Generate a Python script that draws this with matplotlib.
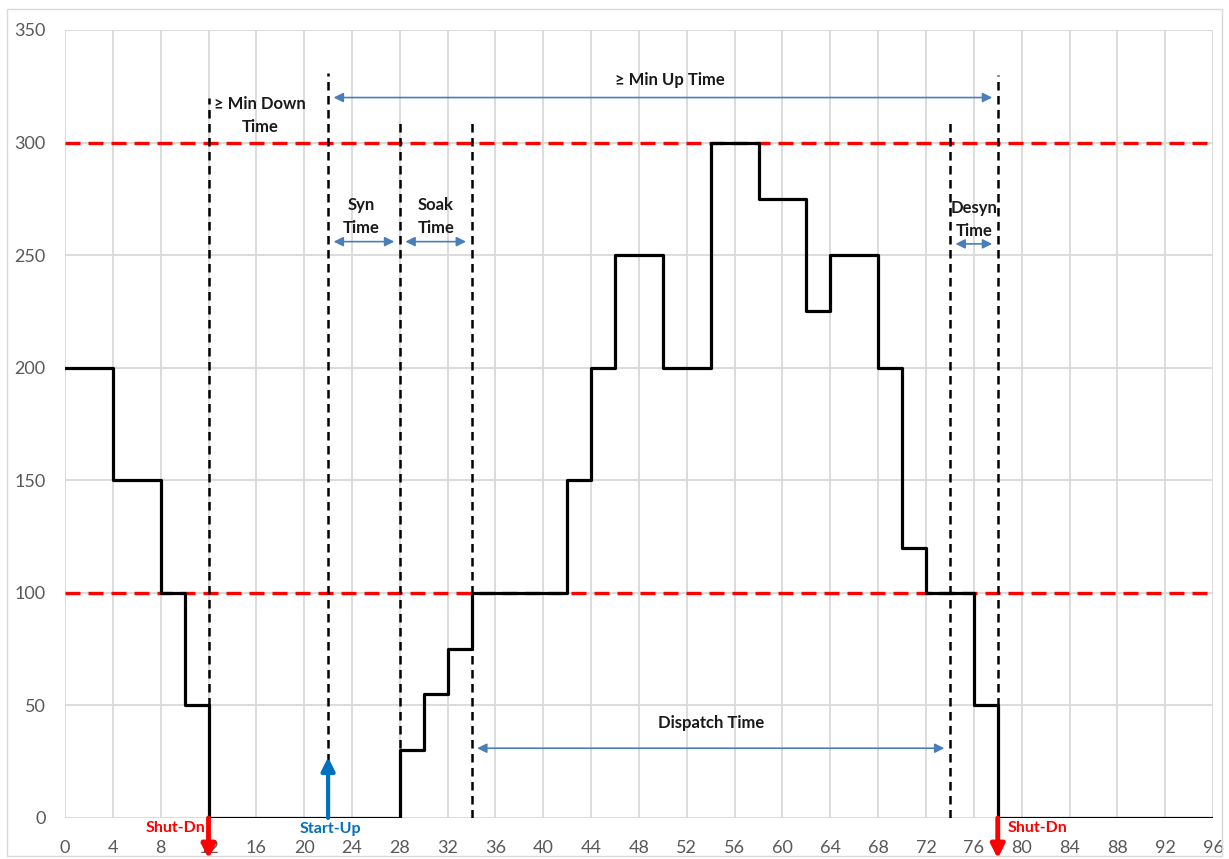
import matplotlib
matplotlib.use("Agg")

import matplotlib.pyplot as plt
from matplotlib.patches import Rectangle

plt.rcParams['font.family'] = ['Lato', 'DejaVu Sans']

# Unit output profile (step changes)
hours = [0, 4, 8, 10, 12, 28, 30, 32, 34, 42, 44, 46, 50, 54, 58, 62, 64, 68, 70, 72, 76, 78, 96]
mw = [200, 150, 100, 50, 0, 30, 55, 75, 100, 150, 200, 250, 200, 300, 275, 225, 250, 200, 120, 100, 50, 0, 0]

# Limits (red dashed)
limits = [100, 300]

# Event markers: x position and top of dashed line
event_x = [12, 22, 28, 34, 74, 78]
event_top = [320, 331, 309, 309, 309, 330]

# Interval arrows: (start, end, y)
spans = [(22, 78, 320), (22, 28, 256), (28, 34, 256), (74, 78, 255), (34, 74, 31)]

# Labels: (text, x, y)
labels = [("≥ Min Down\nTime", 16.3, 312), ("≥ Min Up Time", 50.6, 328),
          ("Syn\nTime", 24.8, 267), ("Soak\nTime", 31, 267),
          ("Desyn\nTime", 76, 266), ("Dispatch Time", 54, 42)]

fig = plt.figure(figsize=(12.29, 8.59), dpi=100)
ax = fig.add_axes([65 / 1229, 1 - 818 / 859, 1148 / 1229, 788 / 859])

# outer chart border
fig.patches.append(Rectangle((7 / 1229, 3 / 859), 1215 / 1229, 847 / 859, transform=fig.transFigure,
                             fill=False, edgecolor="#d9d9d9", linewidth=1))

ax.set_xlim(0, 96)
ax.set_ylim(0, 350)
ax.set_xticks(range(0, 97, 4))
ax.set_yticks(range(0, 351, 50))
ax.grid(True, color="#d9d9d9", linewidth=1.3)
ax.set_axisbelow(True)
for s in ax.spines.values():
    s.set_visible(False)
ax.tick_params(length=0, labelsize=13, colors="#595959")
ax.tick_params(axis="x", pad=16)
ax.tick_params(axis="y", pad=14)

# limits
for lim in limits:
    ax.axhline(lim, color="red", linestyle=(0, (4.5, 2.4)), linewidth=2.4, zorder=3)

# event dashed verticals
for x, top in zip(event_x, event_top):
    ax.plot([x, x], [0, top], color="black", linestyle=(0, (3.4, 2.2)), linewidth=1.8, zorder=4)

# output profile
ax.step(hours, mw, where="post", color="black", linewidth=2.3, zorder=5)

# interval arrows
for x0, x1, y in spans:
    ax.annotate("", xy=(x1, y), xytext=(x0, y),
                arrowprops=dict(arrowstyle="<|-|>", color="#4a7ebb", lw=1.2,
                                shrinkA=4, shrinkB=4, mutation_scale=14))

for txt, x, y in labels:
    ax.text(x, y, txt, ha="center", va="center", fontsize=12, fontweight="bold",
            color="#1a1a1a", linespacing=1.55, zorder=6)

# shut-down / start-up arrows
for x in [12, 78]:
    ax.annotate("", xy=(x, -18), xytext=(x, 0), annotation_clip=False,
                arrowprops=dict(arrowstyle="-|>", color="red", lw=3.5,
                                shrinkA=0, shrinkB=0, mutation_scale=20), zorder=7)
ax.annotate("", xy=(22, 27), xytext=(22, 0), annotation_clip=False,
            arrowprops=dict(arrowstyle="-|>", color="#0070c0", lw=3,
                            shrinkA=0, shrinkB=0, mutation_scale=20), zorder=7)

ax.text(11.7, -4.5, "Shut-Dn", ha="right", va="center", color="red", fontsize=11.5,
        fontweight="bold", clip_on=False)
ax.text(78.8, -4.5, "Shut-Dn", ha="left", va="center", color="red", fontsize=11.5,
        fontweight="bold", clip_on=False)
ax.text(22.2, -5, "Start-Up", ha="center", va="center", color="#0070c0", fontsize=11.5,
        fontweight="bold", clip_on=False)

plt.savefig("out.png", dpi=100)
plt.close()
